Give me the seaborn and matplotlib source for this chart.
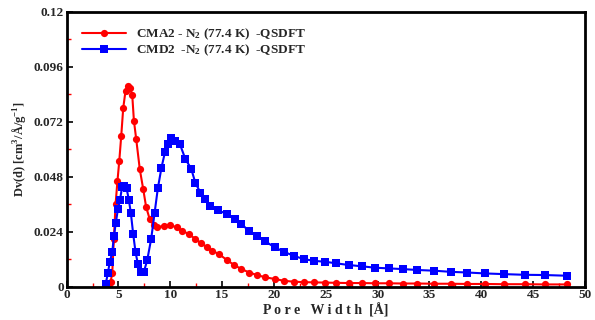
import matplotlib
matplotlib.use("Agg")
import matplotlib.pyplot as plt
import seaborn as sns
import pandas as pd
from matplotlib.ticker import MultipleLocator

# ===== DATA =====
CMA2_X = [4.05, 4.24, 4.4, 4.56, 4.72, 4.9, 5.08, 5.27, 5.46, 5.68, 5.9, 6.1, 6.33,
          6.49, 6.71, 7.06, 7.38, 7.67, 8.02, 8.41, 8.74, 9.38, 10.02, 10.6, 11.15,
          11.79, 12.43, 12.97, 13.55, 14.03, 14.68, 15.48, 16.12, 16.86, 17.63,
          18.37, 19.17, 20.07, 20.94, 21.9, 22.86, 23.83, 24.95, 26.01, 27.2,
          28.49, 29.77, 31.06, 32.44, 33.85, 35.45, 37.06, 38.67, 40.37, 42.2,
          44.22, 46.15, 48.24]
CMA2_Y = [0.0, 0.002, 0.006, 0.021, 0.036, 0.046, 0.055, 0.066, 0.078, 0.0855,
          0.0878, 0.0868, 0.0836, 0.0725, 0.0645, 0.0512, 0.0428, 0.0348, 0.0294,
          0.0268, 0.0259, 0.0266, 0.0269, 0.0259, 0.0244, 0.023, 0.0208, 0.019,
          0.0172, 0.0157, 0.0143, 0.0116, 0.0096, 0.0077, 0.0062, 0.0051, 0.0041,
          0.0034, 0.0026, 0.0022, 0.002, 0.0019, 0.0018, 0.0017, 0.0016, 0.0016,
          0.0015, 0.0015, 0.0014, 0.0014, 0.0013, 0.0013, 0.0012, 0.0012, 0.0011,
          0.0011, 0.001, 0.001]

CMD2_X = [3.76, 3.98, 4.17, 4.4, 4.56, 4.75, 4.95, 5.15, 5.35, 5.55, 5.78, 6.0,
          6.2, 6.42, 6.65, 6.87, 7.13, 7.45, 7.77, 8.16, 8.48, 8.8, 9.15, 9.5,
          9.8, 10.08, 10.45, 10.92, 11.46, 12.01, 12.43, 12.91, 13.39, 13.87,
          14.6, 15.48, 16.21, 16.86, 17.57, 18.37, 19.17, 20.07, 20.94, 21.9,
          22.86, 23.83, 24.95, 26.01, 27.2, 28.49, 29.77, 31.06, 32.44, 33.85,
          35.45, 37.06, 38.67, 40.37, 42.2, 44.22, 46.15, 48.24]
CMD2_Y = [0.001, 0.006, 0.011, 0.015, 0.022, 0.028, 0.034, 0.038, 0.0435, 0.044,
          0.043, 0.038, 0.032, 0.023, 0.015, 0.01, 0.0065, 0.0065, 0.0115, 0.021,
          0.032, 0.043, 0.052, 0.059, 0.0625, 0.0648, 0.0638, 0.0623, 0.0557,
          0.0516, 0.0452, 0.0411, 0.0383, 0.0353, 0.0334, 0.0317, 0.0295, 0.0274,
          0.0244, 0.0223, 0.0198, 0.0172, 0.0153, 0.0135, 0.0121, 0.0113, 0.0109,
          0.0102, 0.0095, 0.0089, 0.0083, 0.008, 0.0077, 0.0073, 0.007, 0.0065,
          0.0062, 0.0058, 0.0055, 0.0052, 0.0051, 0.0048]

LABELS = ["CMA2 - N$_2$ (77.4 K)  -QSDFT", "CMD2  -N$_2$ (77.4 K)  -QSDFT"]
COLORS = ["#ff0000", "#0000ff"]
MARKERS = ["o", "s"]
Y_TICKS = [0, 0.024, 0.048, 0.072, 0.096, 0.12]
Y_TICK_LABELS = ["0", "0.024", "0.048", "0.072", "0.096", "0.12"]

# ===== STYLE =====
sns.set_style("ticks")
plt.rcParams["font.family"] = ["Liberation Serif", "DejaVu Serif"]
plt.rcParams["font.weight"] = "bold"
plt.rcParams["mathtext.fontset"] = "custom"
plt.rcParams["mathtext.rm"] = "Liberation Serif:bold"
plt.rcParams["mathtext.default"] = "rm"

df = pd.concat([
    pd.DataFrame({"x": CMA2_X, "y": CMA2_Y, "series": LABELS[0]}),
    pd.DataFrame({"x": CMD2_X, "y": CMD2_Y, "series": LABELS[1]}),
])

fig = plt.figure(figsize=(5.95, 3.2), dpi=100)
ax = fig.add_axes([0.112, 0.104, 0.871, 0.859])

for lab, col, mk in zip(LABELS, COLORS, MARKERS):
    sub = df[df["series"] == lab]
    sns.lineplot(data=sub, x="x", y="y", ax=ax, color=col, marker=mk,
                 markersize=5.2, markeredgewidth=0, linewidth=1.5,
                 label=lab, sort=False)

ax.set_xlim(0, 50)
ax.set_ylim(0, 0.12)
ax.xaxis.set_major_locator(MultipleLocator(5))
ax.xaxis.set_minor_locator(MultipleLocator(2.5))
ax.set_yticks(Y_TICKS)
ax.set_yticklabels(Y_TICK_LABELS)
ax.yaxis.set_minor_locator(MultipleLocator(0.012))

ax.tick_params(which="major", direction="in", length=4, width=1.2,
               color="black", labelsize=9.5, pad=2)
ax.tick_params(which="minor", direction="in", length=3, width=1,
               color="red")
for lbl in ax.get_xticklabels() + ax.get_yticklabels():
    lbl.set_fontweight("bold")

for s in ax.spines.values():
    s.set_linewidth(2)
    s.set_color("black")

ax.set_xlabel("P o r e   W i d t h  [Å]", fontsize=10, fontweight="bold", labelpad=1)
ax.set_ylabel("Dv(d) [cm$^3$/Å/g$^{-1}$]", fontsize=9, fontweight="bold", labelpad=4)

leg = ax.legend(loc="upper left", bbox_to_anchor=(0.02, 0.965), frameon=False,
                fontsize=9.5, handlelength=3.3, handletextpad=0.8,
                labelspacing=0.05, borderaxespad=0)
for t in leg.get_texts():
    t.set_fontweight("bold")

fig.savefig("out.png", dpi=100)
